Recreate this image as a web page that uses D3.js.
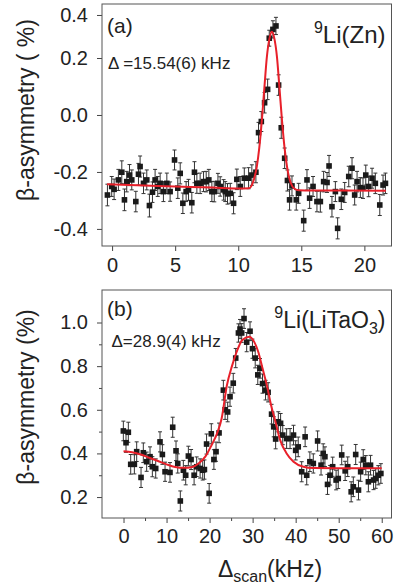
<!DOCTYPE html>
<html><head><meta charset="utf-8">
<script src="https://cdn.jsdelivr.net/npm/d3@7"></script>
<style>
body{margin:0;background:#fff}
svg{display:block}
text{font-family:"Liberation Sans",Arial,Helvetica,sans-serif;fill:#222}
</style>
</head><body>
<svg id="chart" width="394" height="584"></svg>
<script>
// ---------- Data: panel (a) 9Li in Zn  [scan kHz, asymmetry %, error] ----------
const zincPoints = [
[-0.37,-0.281,0.038],[-0.03,-0.251,0.035],[0.16,-0.261,0.036],[0.50,-0.228,0.037],[0.77,-0.201,0.04],
[0.98,-0.298,0.038],[1.16,-0.234,0.036],[1.38,-0.211,0.037],[1.56,-0.228,0.035],[1.88,-0.304,0.036],
[2.09,-0.208,0.038],[2.22,-0.181,0.037],[2.49,-0.240,0.036],[2.75,-0.228,0.035],[2.96,-0.318,0.04],
[3.20,-0.271,0.036],[3.41,-0.228,0.037],[3.62,-0.251,0.035],[3.81,-0.240,0.036],[4.07,-0.269,0.035],
[4.34,-0.240,0.036],[4.60,-0.269,0.034],[4.95,-0.158,0.035],[5.21,-0.257,0.036],[5.40,-0.205,0.037],
[5.61,-0.310,0.036],[5.87,-0.269,0.035],[6.06,-0.263,0.037],[6.32,-0.308,0.036],[6.53,-0.201,0.037],
[6.72,-0.240,0.035],[6.98,-0.240,0.036],[7.25,-0.234,0.035],[7.46,-0.234,0.036],[7.67,-0.228,0.037],
[7.91,-0.269,0.035],[8.10,-0.269,0.036],[8.39,-0.240,0.035],[8.57,-0.251,0.034],[8.84,-0.263,0.036],
[8.97,-0.269,0.035],[9.15,-0.277,0.036],[9.37,-0.275,0.035],[9.63,-0.310,0.037],[9.89,-0.226,0.036],
[10.16,-0.251,0.035],[10.48,-0.222,0.036],[10.82,-0.222,0.037],[11.08,-0.211,0.036],[11.40,-0.201,0.037],
[11.61,-0.062,0.036],[11.83,-0.023,0.035],[12.09,0.043,0.036],[12.33,0.090,0.036],[12.46,0.292,0.037],
[12.75,0.333,0.04],[12.99,0.349,0.04],[13.20,0.105,0.036],[13.41,-0.045,0.037],[13.68,-0.152,0.036],
[13.90,-0.230,0.037],[14.07,-0.298,0.036],[14.26,-0.249,0.035],[14.60,-0.298,0.036],[14.79,-0.275,0.035],
[15.19,-0.371,0.037],[15.45,-0.228,0.036],[15.66,-0.292,0.036],[15.93,-0.251,0.035],[16.24,-0.304,0.036],
[16.51,-0.304,0.037],[16.77,-0.234,0.036],[17.04,-0.237,0.035],[17.20,-0.179,0.037],[17.43,-0.322,0.036],
[17.70,-0.269,0.035],[17.88,-0.398,0.037],[18.17,-0.296,0.036],[18.44,-0.272,0.035],[18.76,-0.216,0.036],
[19.02,-0.187,0.037],[19.23,-0.281,0.035],[19.42,-0.234,0.036],[19.68,-0.255,0.035],[19.89,-0.257,0.036],
[20.11,-0.211,0.035],[20.34,-0.251,0.036],[20.61,-0.222,0.035],[20.87,-0.240,0.036],[21.22,-0.316,0.037],
[21.48,-0.246,0.035],[21.67,-0.240,0.036]
];
const zincFit = [
[-0.4,-0.243],[2,-0.247],[5,-0.251],[8,-0.255],[10,-0.258],[10.87,-0.257],[11.07,-0.247],[11.27,-0.222],
[11.47,-0.182],[11.67,-0.115],[11.87,-0.020],[12.07,0.094],[12.27,0.205],[12.47,0.289],[12.67,0.322],
[12.87,0.289],[13.07,0.205],[13.27,0.094],[13.47,-0.020],[13.67,-0.115],[13.87,-0.182],[14.07,-0.226],
[14.27,-0.249],[14.47,-0.259],[14.8,-0.264],[16,-0.265],[21.7,-0.266]
];
// ---------- Data: panel (b) 9Li in LiTaO3 ----------
const taoPoints = [
[-0.04,0.503,0.045],[0.58,0.449,0.044],[1.12,0.497,0.046],[1.67,0.350,0.045],[2.52,0.350,0.044],
[3.06,0.408,0.045],[4.07,0.290,0.046],[4.60,0.403,0.045],[5.38,0.362,0.044],[6.16,0.385,0.045],
[6.70,0.339,0.046],[7.48,0.331,0.044],[8.48,0.453,0.046],[9.03,0.395,0.045],[9.65,0.316,0.044],
[10.8,0.313,0.045],[11.43,0.520,0.046],[12.2,0.412,0.045],[12.6,0.354,0.044],[13.2,0.182,0.046],
[13.9,0.323,0.045],[14.45,0.300,0.044],[15.07,0.388,0.045],[15.7,0.372,0.046],[16.4,0.300,0.044],
[17.0,0.339,0.045],[17.8,0.331,0.044],[18.4,0.323,0.045],[18.8,0.326,0.044],[19.3,0.443,0.046],
[19.9,0.217,0.045],[20.4,0.490,0.046],[21.0,0.372,0.045],[21.5,0.408,0.044],[22.2,0.494,0.045],
[23.2,0.690,0.045],[23.6,0.600,0.044],[24.2,0.590,0.045],[24.75,0.660,0.044],[25.5,0.722,0.045],
[26.07,0.837,0.044],[26.7,0.952,0.042],[27.07,0.970,0.044],[27.46,0.952,0.043],[28.0,1.018,0.045],
[28.62,0.910,0.044],[29.4,0.960,0.043],[29.96,0.880,0.044],[30.6,0.837,0.045],[31.2,0.760,0.044],
[31.7,0.790,0.045],[32.3,0.720,0.044],[33.0,0.690,0.045],[33.6,0.680,0.044],[34.4,0.580,0.045],
[34.9,0.522,0.046],[35.35,0.466,0.045],[35.97,0.545,0.046],[36.5,0.538,0.045],[37.0,0.484,0.044],
[37.9,0.468,0.045],[38.7,0.468,0.046],[39.5,0.484,0.045],[40.0,0.414,0.044],[40.6,0.430,0.045],
[41.4,0.316,0.046],[42.2,0.476,0.045],[42.57,0.300,0.044],[43.3,0.362,0.045],[44.1,0.354,0.044],
[45.1,0.457,0.046],[45.9,0.346,0.045],[46.4,0.400,0.044],[46.8,0.385,0.045],[47.4,0.258,0.046],
[48.0,0.300,0.045],[48.6,0.339,0.044],[49.4,0.278,0.045],[49.9,0.285,0.046],[50.7,0.393,0.045],
[51.5,0.320,0.044],[52.1,0.339,0.045],[52.9,0.224,0.046],[53.4,0.247,0.045],[53.95,0.395,0.046],
[54.6,0.232,0.045],[55.1,0.316,0.044],[55.7,0.372,0.045],[56.3,0.346,0.044],[56.9,0.270,0.046],
[57.4,0.346,0.045],[58.1,0.278,0.044],[58.6,0.285,0.045],[59.2,0.300,0.044],[59.8,0.308,0.045]
];
const taoFit = [
[0,0.41],[2,0.405],[4,0.395],[6,0.38],[8,0.365],[10,0.35],[12,0.338],[14,0.334],[16,0.338],
[17.5,0.355],[19,0.385],[20.5,0.44],[21.7,0.49],[22.8,0.56],[24,0.71],[25.2,0.80],[26.3,0.866],
[27.6,0.92],[29.2,0.935],[30.4,0.91],[31.3,0.866],[32.3,0.79],[33.3,0.713],[34.3,0.62],[35.2,0.553],
[36.4,0.461],[37.9,0.40],[39.5,0.362],[41.8,0.339],[44,0.333],[50,0.332],[60,0.332]
];
// ---------- Ticks ----------
const zincYTicks = [-0.4,-0.2,0.0,0.2,0.4];
const zincXTicks = [0,5,10,15,20];
const taoYTicks = [0.2,0.4,0.6,0.8,1.0];
const taoYMinor = [0.3,0.5,0.7,0.9];
const taoXTicks = [0,10,20,30,40,50,60];
const taoXMinor = [5,15,25,35,45,55];

const svg = d3.select("#chart");
const fmt = d => d.toFixed(1);

function panel(o){
  const g = svg.append("g");
  const x = d3.scaleLinear().domain(o.xDomain).range([102, 391.5]);
  const y = d3.scaleLinear().domain(o.yDomain).range(o.yRange);
  const [top, bottom] = [o.yRange[o.yRange.length-1], o.yRange[0]];

  // minor ticks
  if (o.yMinor) g.append("g").attr("transform","translate(102,0)")
     .call(d3.axisLeft(y).tickValues(o.yMinor).tickSize(3).tickFormat(""))
     .call(a=>a.select(".domain").remove());
  if (o.xMinor) g.append("g").attr("transform",`translate(0,${bottom})`)
     .call(d3.axisBottom(x).tickValues(o.xMinor).tickSize(3).tickFormat(""))
     .call(a=>a.select(".domain").remove());

  const ya = g.append("g").attr("transform","translate(102,0)")
     .call(d3.axisLeft(y).tickValues(o.yTicks).tickSize(5).tickPadding(9).tickFormat(fmt));
  ya.select(".domain").remove();
  const xa = g.append("g").attr("transform",`translate(0,${bottom})`)
     .call(d3.axisBottom(x).tickValues(o.xTicks).tickSize(5).tickPadding(o.xPad).tickFormat(d3.format("d")));
  xa.select(".domain").remove();
  g.selectAll(".tick line").attr("stroke","#444");
  g.selectAll(".tick text").attr("font-size",20).attr("fill","#222")
    .attr("font-family",'"Liberation Sans",Arial,sans-serif');

  // frame
  g.append("rect").attr("x",102).attr("y",top).attr("width",391.5-102).attr("height",bottom-top)
    .attr("fill","none").attr("stroke","#555").attr("stroke-width",1);

  // error bars
  const eb = g.append("g").attr("stroke","#333").attr("stroke-width",1).attr("fill","none");
  o.points.forEach(p=>{
    const cx = x(p[0]), y1 = y(p[1]-p[2]), y2 = y(p[1]+p[2]);
    eb.append("line").attr("x1",cx).attr("x2",cx).attr("y1",y1).attr("y2",y2);
    eb.append("line").attr("x1",cx-2).attr("x2",cx+2).attr("y1",y1).attr("y2",y1);
    eb.append("line").attr("x1",cx-2).attr("x2",cx+2).attr("y1",y2).attr("y2",y2);
  });
  // markers
  g.append("g").selectAll("rect").data(o.points).join("rect")
    .attr("x",d=>x(d[0])-2.8).attr("y",d=>y(d[1])-2.8).attr("width",5.6).attr("height",5.6)
    .attr("fill","#1a1a1a");
  // fit
  g.append("path").datum(o.fit)
    .attr("d", d3.line().x(d=>x(d[0])).y(d=>y(d[1])).curve(d3.curveMonotoneX))
    .attr("fill","none").attr("stroke","#e8202a").attr("stroke-width",2);
  return g;
}

panel({xDomain:[-0.8,22.15], yDomain:[-0.46,0.2,0.451], yRange:[246,58,4],
  yTicks:zincYTicks, xTicks:zincXTicks, xPad:7, points:zincPoints, fit:zincFit});
panel({xDomain:[-5,62.27], yDomain:[0.104,1.149], yRange:[518,290],
  yTicks:taoYTicks, yMinor:taoYMinor, xTicks:taoXTicks, xMinor:taoXMinor, xPad:6,
  points:taoPoints, fit:taoFit});

// ---------- Texts ----------
svg.append("text").attr("x",107).attr("y",33).attr("font-size",21).text("(a)");
svg.append("text").attr("x",107).attr("y",316).attr("font-size",21).text("(b)");
svg.append("text").attr("x",108).attr("y",69).attr("font-size",17).text("\u0394 =15.54(6) kHz");
svg.append("text").attr("x",111.5).attr("y",347).attr("font-size",17).text("\u0394=28.9(4) kHz");

const la = svg.append("text").attr("x",385.5).attr("y",43).attr("text-anchor","end").attr("font-size",24);
la.append("tspan").attr("font-size",16).attr("dy",-10).text("9");
la.append("tspan").attr("dy",10).text("Li(Zn)");

const lb = svg.append("text").attr("x",385.5).attr("y",328).attr("text-anchor","end").attr("font-size",23);
lb.append("tspan").attr("font-size",16).attr("dy",-10).text("9");
lb.append("tspan").attr("dy",10).text("Li(LiTaO");
lb.append("tspan").attr("font-size",16).attr("dy",6).text("3");
lb.append("tspan").attr("dy",-6).text(")");

svg.append("text").attr("transform","translate(34,110) rotate(-90)").attr("text-anchor","middle")
  .attr("font-size",23).text("\u03B2-asymmetry ( %)");
svg.append("text").attr("transform","translate(34,397) rotate(-90)").attr("text-anchor","middle")
  .attr("font-size",23).text("\u03B2-asymmetry (%)");

const xl = svg.append("text").attr("x",270).attr("y",577).attr("text-anchor","middle").attr("font-size",23);
xl.append("tspan").text("\u0394");
xl.append("tspan").attr("font-size",16).attr("dy",5).text("scan");
xl.append("tspan").attr("dy",-5).text("(kHz)");
</script>
</body></html>
